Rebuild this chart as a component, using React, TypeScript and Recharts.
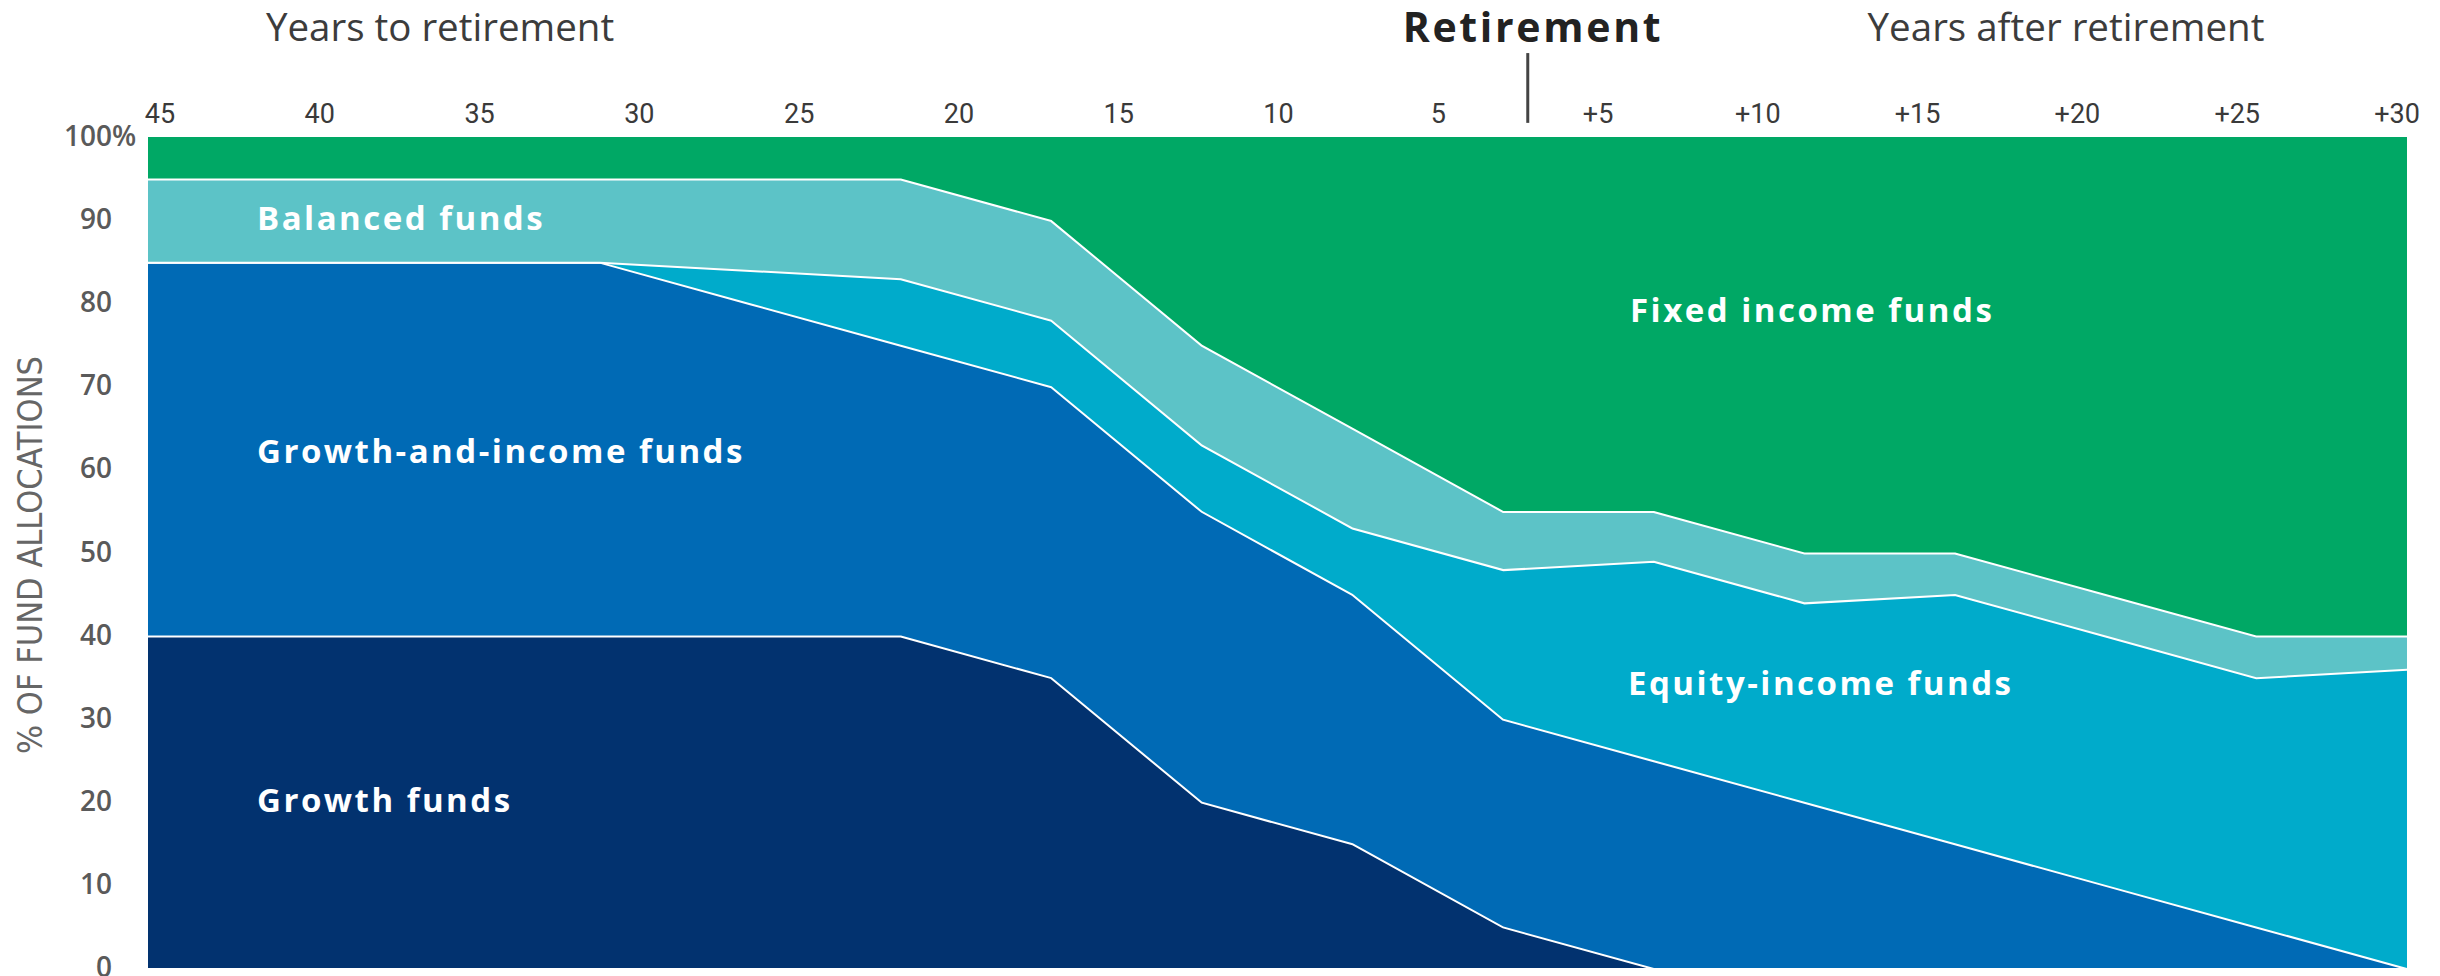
import React from 'react';
import { AreaChart, Area, XAxis, YAxis, ReferenceLine } from 'recharts';

// ---- data (years relative to retirement) ----
const years = [-45, -40, -35, -30, -25, -20, -15, -10, -5, 0, 5, 10, 15, 20, 25, 30];
const growth = [40, 40, 40, 40, 40, 40, 35, 20, 15, 5, 0, 0, 0, 0, 0, 0];
const growthIncome = [45, 45, 45, 45, 40, 35, 35, 35, 30, 25, 25, 20, 15, 10, 5, 0];
const equityIncome = [0, 0, 0, 0, 4, 8, 8, 8, 8, 18, 24, 24, 30, 30, 30, 36];
const balanced = [10, 10, 10, 10, 11, 12, 12, 12, 12, 7, 6, 6, 5, 5, 5, 4];
const fixedIncome = [5, 5, 5, 5, 5, 5, 10, 25, 35, 45, 45, 50, 50, 55, 60, 60];

const tickLabels = ['45', '40', '35', '30', '25', '20', '15', '10', '5', '+5', '+10', '+15', '+20', '+25', '+30'];
const tickIdx = tickLabels.map((_, i) => i);
const yTicks = [0, 10, 20, 30, 40, 50, 60, 70, 80, 90, 100];

const data = years.map((y, i) => ({
  year: y,
  growth: growth[i],
  growthIncome: growthIncome[i],
  equityIncome: equityIncome[i],
  balanced: balanced[i],
  fixedIncome: fixedIncome[i],
}));

const C = {
  growth: '#02326f',
  growthIncome: '#006ab5',
  equityIncome: '#00abcb',
  balanced: '#5cc3c7',
  fixedIncome: '#00a865',
};

const XTick = (props: any) => {
  const { x, y, payload } = props;
  return (
    <text x={x} y={y} textAnchor="middle" fill="#3a3a3a" fontSize={27} fontFamily="Roboto, 'Liberation Sans', sans-serif">
      {tickLabels[payload.value]}
    </text>
  );
};

const YTick = (props: any) => {
  const { x, y, payload } = props;
  const f = { fill: '#5a5a5a', fontSize: 28, fontFamily: "'Open Sans', sans-serif", fontWeight: 600 } as any;
  return (
    <g>
      <text x={x} y={y} dy={9} textAnchor="end" {...f}>{payload.value}</text>
      {payload.value === 100 && (
        <text x={x} y={y} dy={9} textAnchor="start" {...f}>%</text>
      )}
    </g>
  );
};

const labelStyle: any = {
  fill: '#ffffff',
  fontFamily: "'Open Sans', sans-serif",
  fontWeight: 700,
  fontSize: 33,
  letterSpacing: 2.5,
};

export default function App() {
  return (
    <div style={{ position: 'absolute', left: 0, top: 0, width: 2440, height: 976, background: '#fff' }}>
      <AreaChart
        width={2440}
        height={976}
        data={data}
        margin={{ top: 77, right: 33, bottom: 8, left: 0 }}
      >
        <XAxis xAxisId="data" dataKey="year" type="number" domain={[-45, 30]} hide />
        <XAxis
          xAxisId="lab"
          dataKey="labelSlot"
          type="number"
          orientation="top"
          domain={[0, 14]}
          ticks={tickIdx}
          allowDataOverflow
          height={60}
          padding={{ left: 12, right: 10 }}
          axisLine={false}
          tickLine={false}
          tickSize={0}
          tickMargin={14}
          interval={0}
          tick={<XTick />}
        />
        <YAxis
          type="number"
          domain={[0, 100]}
          ticks={yTicks}
          width={148}
          axisLine={false}
          tickLine={false}
          tickSize={0}
          tickMargin={36}
          interval={0}
          tick={<YTick />}
        />
        <Area xAxisId="data" type="linear" dataKey="growth" stackId="1" fill={C.growth} fillOpacity={1} stroke="#ffffff" strokeWidth={4} isAnimationActive={false} />
        <Area xAxisId="data" type="linear" dataKey="growthIncome" stackId="1" fill={C.growthIncome} fillOpacity={1} stroke="#ffffff" strokeWidth={4} isAnimationActive={false} />
        <Area xAxisId="data" type="linear" dataKey="equityIncome" stackId="1" fill={C.equityIncome} fillOpacity={1} stroke="#ffffff" strokeWidth={4} isAnimationActive={false} />
        <Area xAxisId="data" type="linear" dataKey="balanced" stackId="1" fill={C.balanced} fillOpacity={1} stroke="#ffffff" strokeWidth={4} isAnimationActive={false} />
        <Area xAxisId="data" type="linear" dataKey="fixedIncome" stackId="1" fill={C.fixedIncome} fillOpacity={1} stroke="none" isAnimationActive={false} />
        <ReferenceLine
          xAxisId="lab"
          segment={[{ x: 8.56, y: 101.7 }, { x: 8.56, y: 110.1 }]}
          stroke="#444"
          strokeWidth={3}
          ifOverflow="visible"
        />
      </AreaChart>
      <svg width={2440} height={976} style={{ position: 'absolute', left: 0, top: 0, pointerEvents: 'none' }}>
        <text x={440} y={41} textAnchor="middle" fill="#3c3c3c" fontSize={38.5} fontFamily="'Open Sans', sans-serif">Years to retirement</text>
        <text x={1533} y={42} textAnchor="middle" fill="#222" fontSize={41} fontWeight={700} letterSpacing={2.7} fontFamily="'Open Sans', sans-serif">Retirement</text>
        <text x={2066} y={41} textAnchor="middle" fill="#3c3c3c" fontSize={38.5} fontFamily="'Open Sans', sans-serif">Years after retirement</text>
        <g transform="translate(42,555)">
          <text transform="rotate(-90)" textAnchor="middle" fill="#666" fontSize={34} fontFamily="'Liberation Sans Narrow', 'DejaVu Sans Condensed', Roboto, sans-serif">% OF FUND ALLOCATIONS</text>
        </g>
        <text x={257} y={230} {...labelStyle}>Balanced funds</text>
        <text x={257} y={463} {...labelStyle}>Growth-and-income funds</text>
        <text x={257} y={812} {...labelStyle}>Growth funds</text>
        <text x={1630} y={322} {...labelStyle}>Fixed income funds</text>
        <text x={1628} y={695} {...labelStyle}>Equity-income funds</text>
      </svg>
    </div>
  );
}
